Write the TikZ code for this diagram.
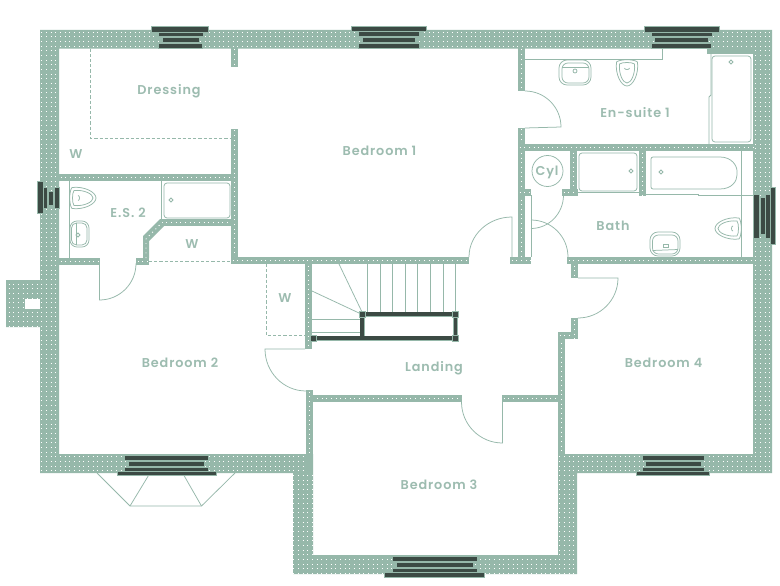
\documentclass[tikz,border=0pt]{standalone}
\usepackage{fontspec}
\setmainfont{Poppins}[UprightFont={* SemiBold},LetterSpace=7]
\definecolor{wallc}{HTML}{96B8AA}
\definecolor{darkc}{HTML}{3C4A44}
\definecolor{textc}{HTML}{9DBCB0}
\tikzset{
  x=1pt,y=-1pt,
  fix/.style={draw=wallc,line width=0.75pt,fill=none},
  dashline/.style={draw=wallc,line width=0.75pt,dash pattern=on 3.2pt off 2pt},
  win/.style={fill=darkc,draw=wallc,line width=0.8pt},
  dotrow/.style={draw=white,line width=0.95pt,dash pattern=on 0.95pt off 3.717pt},
  label/.style={text=textc,font=\fontsize{12.8}{14}\selectfont,inner sep=0pt},
  rail/.style={draw=wallc,line width=5pt},
  railin/.style={draw=darkc,line width=3.2pt},
  post/.style={fill=darkc,draw=wallc,line width=0.9pt},
}
\newcommand{\wh}[4]{\fill[wallc] (#1,#3) rectangle (#2,#4);
  \draw[dotrow] ({#1+1.5},{(#3+#4)/2}) -- (#2,{(#3+#4)/2});}
\newcommand{\wv}[4]{\fill[wallc] (#1,#3) rectangle (#2,#4);
  \draw[dotrow] ({(#1+#2)/2},{#3+1.5}) -- ({(#1+#2)/2},#4);}
\newcommand{\toilet}[3]{% x y rot
  \begin{scope}[shift={(#1,#2)},rotate=#3]
  \draw[fix] (-11,-10.5) .. controls (1,-12) and (13,-6) .. (13,0) .. controls (13,6) and (1,12) .. (-11,10.5) .. controls (-14,7) and (-14,-7) .. (-11,-10.5);
  \draw[fix] (-9,-7.5) .. controls (1,-8.5) and (10,-4) .. (10,0) .. controls (10,4) and (1,8.5) .. (-9,7.5) .. controls (-11,5) and (-11,-5) .. (-9,-7.5);
  \draw[fix] (-5,-2.5) .. controls (-3,-2.5) and (-3,2.5) .. (-5,2.5);
  \end{scope}}
\newcommand{\tapd}[2]{\draw[fix] (#1,{#2-2}) -- ({#1+2},#2) -- (#1,{#2+2}) -- ({#1-2},#2) -- cycle;}
\begin{document}
\begin{tikzpicture}
\useasboundingbox (0,0) rectangle (780,586);
\fill[white] (0,0) rectangle (780,586);
% thick walls
\fill[wallc]
  (40,30) rectangle (772,48.7)
  (40,30) rectangle (59,473)
  (40,454) rectangle (313,473)
  (293,454) rectangle (313,574)
  (293,555) rectangle (577,574)
  (558,454) rectangle (577,574)
  (558,454) rectangle (772,473)
  (753,30) rectangle (772,473)
  (6,280) rectangle (40,327)
  (707,48) rectangle (753,54);
\begin{scope}
  \clip
  (40,30) rectangle (772,48.7)
  (40,30) rectangle (59,473)
  (40,454) rectangle (306,473)
  (293,473) rectangle (313,574)
  (293,555) rectangle (577,574)
  (558,473) rectangle (577,574)
  (558,454) rectangle (772,473)
  (753,30) rectangle (772,473)
  (6,280) rectangle (40,327);
  \foreach \r in {0,...,118}{
    \draw[dotrow,dash phase=0pt] (3.85,{32+\r*4.667}) -- (776,{32+\r*4.667});
  }
\end{scope}
\fill[white] (25,299) rectangle (40,309);
% thin walls
\wv{231}{238}{48}{67}
\wv{231}{238}{129}{263}
\wh{59}{231}{174}{181}
\wh{160}{231}{219}{226}
\wh{59}{100}{258}{264.7}
\wh{136}{149}{258}{264.7}
\fill[wallc] (160,219) -- (164,226) -- (149,241) -- (149,258) -- (143,258) -- (143,236) -- cycle;
\draw[dotrow] (146,258) -- (146,239) -- (162,222.5);
\wh{231}{469}{257.3}{264}
\wv{305}{312}{264}{349}
\wh{306}{462}{395}{402}
\wv{306}{313}{390}{454}
\wh{502}{565}{395}{402}
\wv{558}{565}{332}{454}
\wh{558}{578}{332}{339}
\wv{571}{578}{318}{339}
\wv{571}{578}{264}{278}
\wh{567}{753}{257}{264}
\wh{510}{531}{257}{264}
\wv{518}{525}{48}{91}
\wv{518}{525}{128}{264}
\wh{518}{753}{144}{151}
\wv{570}{577}{151}{195.7}
\wv{639}{646}{151}{195.7}
\wh{562}{578}{189}{195.7}
\wh{518}{531}{189}{195.7}
% windows: top
\draw[win] (151,26) rectangle (208,32); \draw[win] (158,32) rectangle (203,36.5); \draw[win] (162,37) rectangle (199,42); \draw[win] (158,43) rectangle (202,48);
\draw[win] (351,26) rectangle (426,31); \draw[win] (358,31) rectangle (419,36.5); \draw[win] (362,37) rectangle (415,42); \draw[win] (358,43) rectangle (419,48);
\draw[win] (644,26) rectangle (719,32); \draw[win] (651,32) rectangle (712,36.5); \draw[win] (654,37) rectangle (708,42); \draw[win] (651,43) rectangle (711,48);
% left and right
\draw[win] (37.5,181) rectangle (43,213); \draw[win] (43,187) rectangle (47,208); \draw[win] (48,191) rectangle (53,205); \draw[win] (54,187) rectangle (59,208);
\draw[win] (753.5,194) rectangle (759,238); \draw[win] (760,197) rectangle (765,234.5); \draw[win] (765.5,194) rectangle (770,238); \draw[win] (770,187) rectangle (775,244);
% bottom
\draw[win] (124,455) rectangle (208,460); \draw[win] (128,461) rectangle (204,466); \draw[win] (124,467) rectangle (208,471); \draw[win] (117,471) rectangle (216,475);
\draw[win] (642,455) rectangle (704,460); \draw[win] (645,461) rectangle (701,466); \draw[win] (642,467) rectangle (704,471); \draw[win] (636,471) rectangle (709,475);
\draw[win] (392,556) rectangle (477,561); \draw[win] (396,562) rectangle (473,567); \draw[win] (392,568) rectangle (477,572); \draw[win] (384,572) rectangle (484,577);
% bay
\draw[fix] (97,473) -- (130,506) -- (201.5,506) -- (235,473);
\draw[fix] (130,506) -- (148.5,475.5);
\draw[fix] (201.5,506) -- (184,475.5);
% dashed
\draw[dashline] (90,48.7) -- (90,138) -- (231,138);
\draw[dashline] (149,261) -- (231,261);
\draw[dashline] (266,264) -- (266,335) -- (305,335);
% E.S.2
\draw[fix] (69,181) -- (69,258);
\toilet{83}{198}{0}
\draw[fix,rounded corners=7pt] (70,221) rectangle (89,247);
\draw[fix,rounded corners=5pt] (71.5,223) rectangle (87,245);
\draw[fix] (76,223) -- (76,245);
\tapd{78}{235}
\draw[fix] (161,181) -- (161,219);
\draw[fix,rounded corners=3pt] (164,183) rectangle (230,218);
\tapd{171}{200}
% En-suite 1
\draw[fix] (525,59) -- (662,59) -- (662,48);
\draw[fix,rounded corners=8pt] (559,60) rectangle (591,85);
\draw[fix,rounded corners=6pt] (562,63) rectangle (589,83);
\draw[fix] (562,67) -- (589,67);
\draw[fix] (575,71) circle (2);
\toilet{627}{73}{-90}
\draw[fix] (711,54) -- (711,95) -- (709,97) -- (709,144);
\draw[fix,rounded corners=3pt] (712,56) rectangle (751,142);
\tapd{731}{62}
% Cyl, shower
\draw[fix] (547.5,171) circle (15.5);
\draw[fix,rounded corners=3pt] (579,153) rectangle (637,191);
\draw[fix] (577,192) -- (639,192);
\tapd{631}{171}
% Bath
\draw[fix,rounded corners=2pt] (651,157) -- (718,157) .. controls (732,157) and (737,166) .. (737,173) .. controls (737,181) and (732,189) .. (718,189) -- (651,189) -- cycle;
\tapd{661}{172}
\draw[fix] (646,194) -- (698,194) -- (698,195) -- (753,195);
\draw[fix] (741,151) -- (741,257);
\toilet{728}{228.5}{180}
\draw[fix,rounded corners=8pt] (650,232) rectangle (680,256);
\draw[fix,rounded corners=6pt] (652.5,235) rectangle (678,254);
\draw[fix] (652.5,250.5) -- (678,249.5);
\draw[fix] (663,244.5) rectangle (668,247.5);
% Doors
\draw[fix] (525,91) arc[start angle=-90,end angle=0,radius=36] -- (525,128);
\draw[fix] (531,195) -- (531,257);
\draw[fix] (563.5,195) arc[start angle=0,end angle=90,x radius=32.5,y radius=33.5];
\draw[fix] (531,220) arc[start angle=-90,end angle=0,x radius=37,y radius=37];
\draw[fix] (469,257) arc[start angle=180,end angle=270,x radius=43,y radius=40] -- (512,257);
\draw[fix] (578,278) -- (618,278) arc[start angle=0,end angle=90,radius=40];
\draw[fix] (99.5,264) -- (99.5,300) arc[start angle=90,end angle=0,radius=36.5];
\draw[fix] (305,349) -- (265,349) arc[start angle=180,end angle=90,x radius=41,y radius=42];
\draw[fix] (502.5,402) -- (502.5,443) arc[start angle=90,end angle=180,radius=41];
% Stairs
\foreach \x in {367.3,380.3,392.3,405.3,417.3,430.3,443.3,455.3}{\draw[fix] (\x,264) -- (\x,312);}
\draw[fix] (339,264) -- (362,312);
\draw[fix] (312,291) -- (359,313);
\draw[fix] (312,319) -- (360,319);
\draw[fix] (312,332) -- (360,332);
\draw[rail] (362,314) -- (455.5,314) -- (455.5,338) -- (313.5,338);
\draw[rail] (362,314) -- (362,338);
\draw[railin] (362,314) -- (455.5,314) -- (455.5,338) -- (313.5,338);
\draw[railin] (362,314) -- (362,338);
\draw[post] (359,311) rectangle (365,317);
\draw[post] (452.5,311) rectangle (458.5,317);
\draw[post] (452.5,335) rectangle (458.5,341);
\draw[post] (310.5,335) rectangle (316.5,341);
% Labels
\node[label] (n1) at (169,91.7) {Dressing};
\node[label] (n2) at (76,153.7) {W};
\node[label] (n3) at (128,212.7) {E.S. 2};
\node[label] (n4) at (192,243.7) {W};
\node[label] (n5) at (379.5,150.7) {Bedroom 1};
\node[label] (n6) at (635,112.7) {En-suite 1};
\node[label] (n7) at (547,172.7) {Cyl};
\node[label] (n8) at (613,225.7) {Bath};
\node[label] (n9) at (285,297.7) {W};
\node[label] (n10) at (180,362.7) {Bedroom 2};
\node[label] (n11) at (663.5,362.7) {Bedroom 4};
\node[label] (n12) at (434,368.7) {Landing};
\node[label] (n13) at (439,484.7) {Bedroom 3};
\end{tikzpicture}
\end{document}
